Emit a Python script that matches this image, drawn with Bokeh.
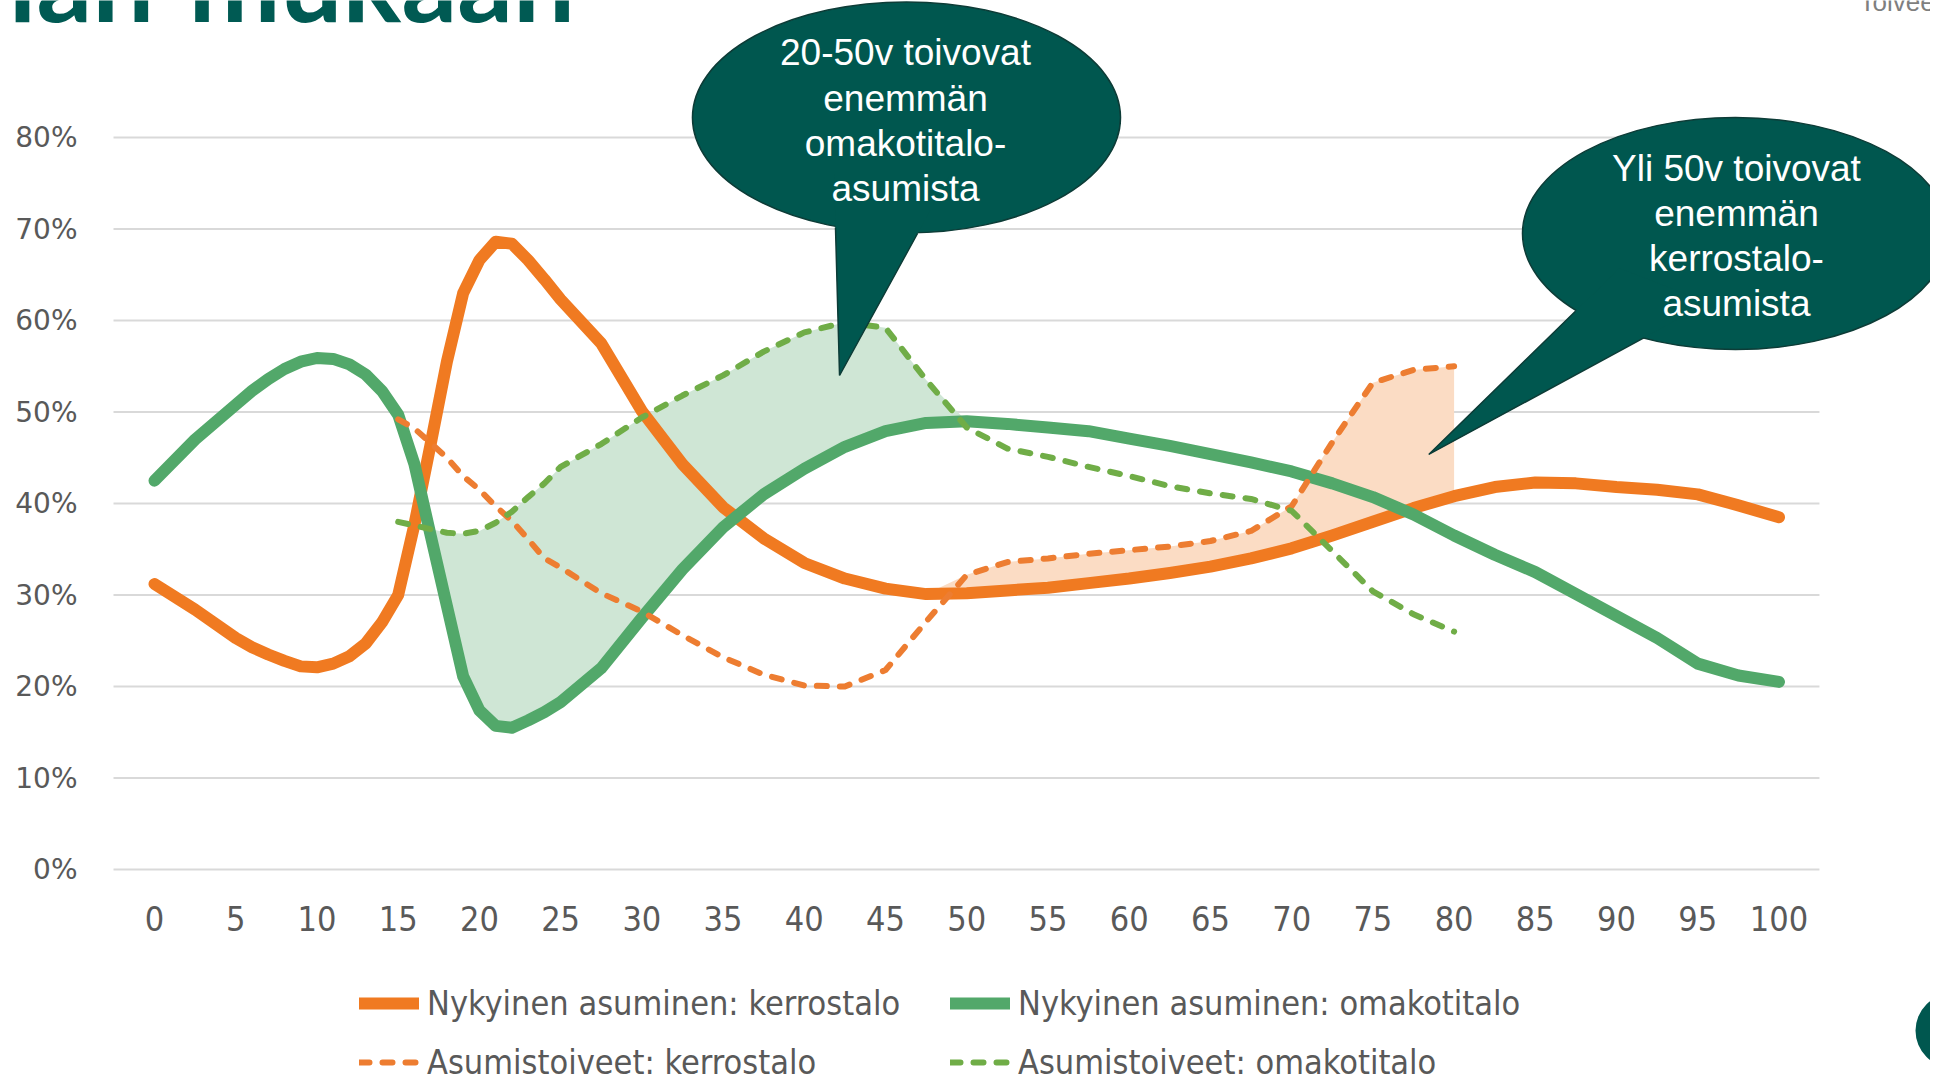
import numpy as np
from bokeh.plotting import figure
from bokeh.models import (Range1d, FixedTicker, PrintfTickFormatter, Legend,
                          LegendItem, Label)
from bokeh.core.properties import value
from bokeh.embed import file_html
from bokeh.resources import INLINE

# ---------------- data ----------------
AGES = [0, 2.5, 5, 6, 7, 8, 9, 10, 11, 12, 13, 14, 15, 16, 17, 18, 19, 20, 21, 22,
        23, 24, 25, 27.5, 30, 32.5, 35, 37.5, 40, 42.5, 45, 47.5, 50, 52.5, 55, 57.5,
        60, 62.5, 65, 67.5, 70, 72.5, 75, 77.5, 80, 82.5, 85, 87.5, 90, 92.5, 95,
        97.5, 100]

NYKYINEN_KERROSTALO = [31.2, 28.4, 25.3, 24.3, 23.5, 22.8, 22.2, 22.1, 22.5, 23.3,
                       24.7, 27.0, 30.0, 37.7, 46.5, 55.5, 63.0, 66.6, 68.6, 68.4,
                       66.6, 64.5, 62.3, 57.5, 50.1, 44.3, 39.6, 36.2, 33.5, 31.8,
                       30.7, 30.1, 30.2, 30.5, 30.8, 31.3, 31.8, 32.4, 33.1, 34.0,
                       35.1, 36.5, 38.0, 39.5, 40.8, 41.8, 42.3, 42.2, 41.8, 41.5,
                       41.0, 39.8, 38.5]

NYKYINEN_OMAKOTITALO = [42.5, 47.0, 50.8, 52.3, 53.6, 54.7, 55.5, 55.9, 55.8, 55.2,
                        54.1, 52.3, 49.7, 44.3, 36.5, 28.8, 21.1, 17.4, 15.7, 15.5,
                        16.3, 17.2, 18.3, 22.0, 27.5, 32.8, 37.4, 41.0, 43.8, 46.2,
                        47.9, 48.8, 49.0, 48.7, 48.3, 47.9, 47.1, 46.3, 45.4, 44.5,
                        43.5, 42.2, 40.7, 38.8, 36.5, 34.4, 32.5, 30.1, 27.7, 25.3,
                        22.5, 21.2, 20.5]

TOIVE_AGES = [15, 16, 17, 18, 19, 20, 21, 22, 23, 24, 25, 27.5, 30, 32.5, 35, 37.5,
              40, 42.5, 45, 47.5, 50, 52.5, 55, 57.5, 60, 62.5, 65, 67.5, 70, 72.5,
              75, 77.5, 80]

TOIVE_KERROSTALO = [49.2, 48.2, 46.6, 45.0, 43.0, 41.5, 39.7, 38.1, 36.1, 34.0, 33.0,
                    30.2, 28.2, 25.6, 23.2, 21.3, 20.1, 20.0, 21.8, 27.1, 32.2, 33.6,
                    34.0, 34.5, 34.9, 35.3, 35.9, 37.0, 39.7, 46.7, 53.2, 54.6, 55.0]

TOIVE_OMAKOTITALO = [38.0, 37.6, 37.2, 36.8, 36.7, 37.0, 37.9, 39.1, 40.7, 42.2, 44.0,
                     46.5, 49.4, 51.8, 54.0, 56.6, 58.7, 59.8, 59.2, 53.5, 48.3, 46.0,
                     45.1, 44.0, 43.0, 41.9, 41.1, 40.5, 39.2, 34.8, 30.4, 27.9, 26.0]

X_TICKS = list(range(0, 101, 5))
Y_TICKS = list(range(0, 81, 10))

LABELS = ["Nykyinen asuminen: kerrostalo", "Nykyinen asuminen: omakotitalo",
          "Asumistoiveet: kerrostalo", "Asumistoiveet: omakotitalo"]

CALLOUT1_TEXT = ["20-50v toivovat", "enemmän", "omakotitalo-", "asumista"]
CALLOUT2_TEXT = ["Yli 50v toivovat", "enemmän", "kerrostalo-", "asumista"]

# ---------------- styles ----------------
ORANGE = "#F07A21"
GREEN = "#52A86A"
ORANGE_D = "#ED7D31"
GREEN_D = "#70AD47"
GREEN_FILL = "#CFE6D5"
ORANGE_FILL = "#FBDCC4"
DARK = "#00574F"
DARK_EDGE = "#0D3C37"
GRAY = "#595959"
NARROW = "'Liberation Sans Narrow', 'DejaVu Sans Condensed', sans-serif"

W, H = 1930, 1074
X0, X1 = -9.480, 109.326
Y0, Y1 = -22.404, 94.973
GRID_X0, GRID_X1 = -2.524, 102.49

p = figure(width=W, height=H, output_backend="svg", toolbar_location=None,
           x_range=Range1d(X0, X1), y_range=Range1d(Y0, Y1),
           min_border_left=0, min_border_right=0, min_border_top=0,
           min_border_bottom=0)
p.outline_line_color = None
p.xgrid.visible = False
p.ygrid.visible = False

# axes, placed inside the full-canvas frame
p.yaxis.ticker = FixedTicker(ticks=Y_TICKS)
p.yaxis.formatter = PrintfTickFormatter(format="%d%%")
p.xaxis.ticker = FixedTicker(ticks=X_TICKS)
p.yaxis.fixed_location = GRID_X0
p.xaxis.fixed_location = 0
for ax in (p.xaxis, p.yaxis):
    ax.axis_line_color = None
    ax.major_tick_line_color = None
    ax.minor_tick_line_color = None
    ax.major_tick_out = 0
    ax.major_tick_in = 0
    ax.major_label_text_color = GRAY
p.yaxis.major_label_text_font = "DejaVu Sans"
p.yaxis.major_label_text_font_size = "28px"
p.yaxis.major_label_standoff = 36
p.xaxis.major_label_text_font = NARROW
p.xaxis.major_label_text_font_size = "34px"
p.xaxis.major_label_standoff = 36

# horizontal gridlines
p.segment(x0=[GRID_X0] * len(Y_TICKS), y0=Y_TICKS, x1=[GRID_X1] * len(Y_TICKS),
          y1=Y_TICKS, line_color="#D9D9D9", line_width=2)

# shaded gaps between wish and current
ages = np.array(AGES, dtype=float)
ta = np.array(TOIVE_AGES, dtype=float)
idx = [AGES.index(a) for a in TOIVE_AGES]
cur_k = np.array(NYKYINEN_KERROSTALO)[idx]
cur_o = np.array(NYKYINEN_OMAKOTITALO)[idx]
wish_k = np.array(TOIVE_KERROSTALO)
wish_o = np.array(TOIVE_OMAKOTITALO)
gm = ta <= 50
p.varea(x=ta[gm], y1=cur_o[gm], y2=np.maximum(cur_o, wish_o)[gm], fill_color=GREEN_FILL)
om = ta >= 45
p.varea(x=ta[om], y1=cur_k[om], y2=np.maximum(cur_k, wish_k)[om], fill_color=ORANGE_FILL)

# series
r1 = p.line(ages, NYKYINEN_KERROSTALO, line_color=ORANGE, line_width=12,
            line_cap="round", line_join="round")
r2 = p.line(ages, NYKYINEN_OMAKOTITALO, line_color=GREEN, line_width=12,
            line_cap="round", line_join="round")
r3 = p.line(ta, TOIVE_KERROSTALO, line_color=ORANGE_D, line_width=6,
            line_dash="10 13", line_cap="round", line_join="round")
r4 = p.line(ta, TOIVE_OMAKOTITALO, line_color=GREEN_D, line_width=6,
            line_dash="10 13", line_cap="round", line_join="round")

# ---------------- callouts ----------------
def callout(cx, cy, w, h, tail_inner, tail_outer, lines_x, lines_y, texts):
    p.patch([t[0] for t in tail_inner], [t[1] for t in tail_inner],
            fill_color=DARK, line_color=None)
    p.ellipse(x=[cx], y=[cy], width=[w], height=[h], fill_color=DARK,
              line_color=DARK_EDGE, line_width=1.5)
    p.patch([t[0] for t in tail_inner], [t[1] for t in tail_inner],
            fill_color=DARK, line_color=None)
    p.line([t[0] for t in tail_outer], [t[1] for t in tail_outer],
           line_color=DARK_EDGE, line_width=1.5)
    p.text(x=[lines_x] * len(texts), y=lines_y, text=texts, text_color="white",
           text_font=value("Liberation Sans"), text_font_size="37px",
           text_align="center", text_baseline="middle")

callout(46.29, 82.19, 26.35, 25.25,
        [(41.83, 76.0), (48.98, 76.0), (42.17, 53.99)],
        [(41.92, 70.16), (42.17, 53.99), (46.97, 69.51)],
        46.23, [89.29, 84.26, 79.34, 74.43], CALLOUT1_TEXT)
callout(97.32, 69.51, 26.22, 25.36,
        [(90.18, 65.72), (95.65, 61.94), (78.44, 45.36)],
        [(87.47, 61.02), (78.44, 45.36), (91.68, 58.11)],
        97.38, [76.58, 71.66, 66.74, 61.83], CALLOUT2_TEXT)

# slide fragments around the chart
TITLE_STYLE = dict(text_font="Lato", text_font_style="bold", text_font_size="110px",
                   text_color="#005A53", text_baseline="alphabetic")
p.add_layout(Label(x=-8.99, y=97.27, text="iän", **TITLE_STYLE))
p.add_layout(Label(x=2.09, y=97.27, text="mukaan", **TITLE_STYLE))
p.add_layout(Label(x=104.96, y=94.83, text="Toiveet", text_font="Liberation Sans",
                   text_font_size="26px", text_color="#7F7F7F",
                   text_baseline="alphabetic"))
p.scatter(x=[110.68], y=[-17.6], size=74, marker="circle", fill_color=DARK,
          line_color=None)

# ---------------- legend ----------------
def make_legend(items, loc):
    leg = Legend(items=items, location=loc, orientation="vertical")
    leg.glyph_width = 60
    leg.glyph_height = 44
    leg.label_height = 44
    leg.spacing = 15
    leg.padding = 0
    leg.margin = 0
    leg.label_standoff = 8
    leg.border_line_color = None
    leg.background_fill_alpha = 0
    leg.label_text_font = NARROW
    leg.label_text_font_size = "34px"
    leg.label_text_color = GRAY
    return leg

p.add_layout(make_legend([LegendItem(label=LABELS[0], renderers=[r1]),
                          LegendItem(label=LABELS[2], renderers=[r3])], (359, -10)))
p.add_layout(make_legend([LegendItem(label=LABELS[1], renderers=[r2]),
                          LegendItem(label=LABELS[3], renderers=[r4])], (950, -10)))

open("out.html", "w").write(file_html(p, INLINE))
